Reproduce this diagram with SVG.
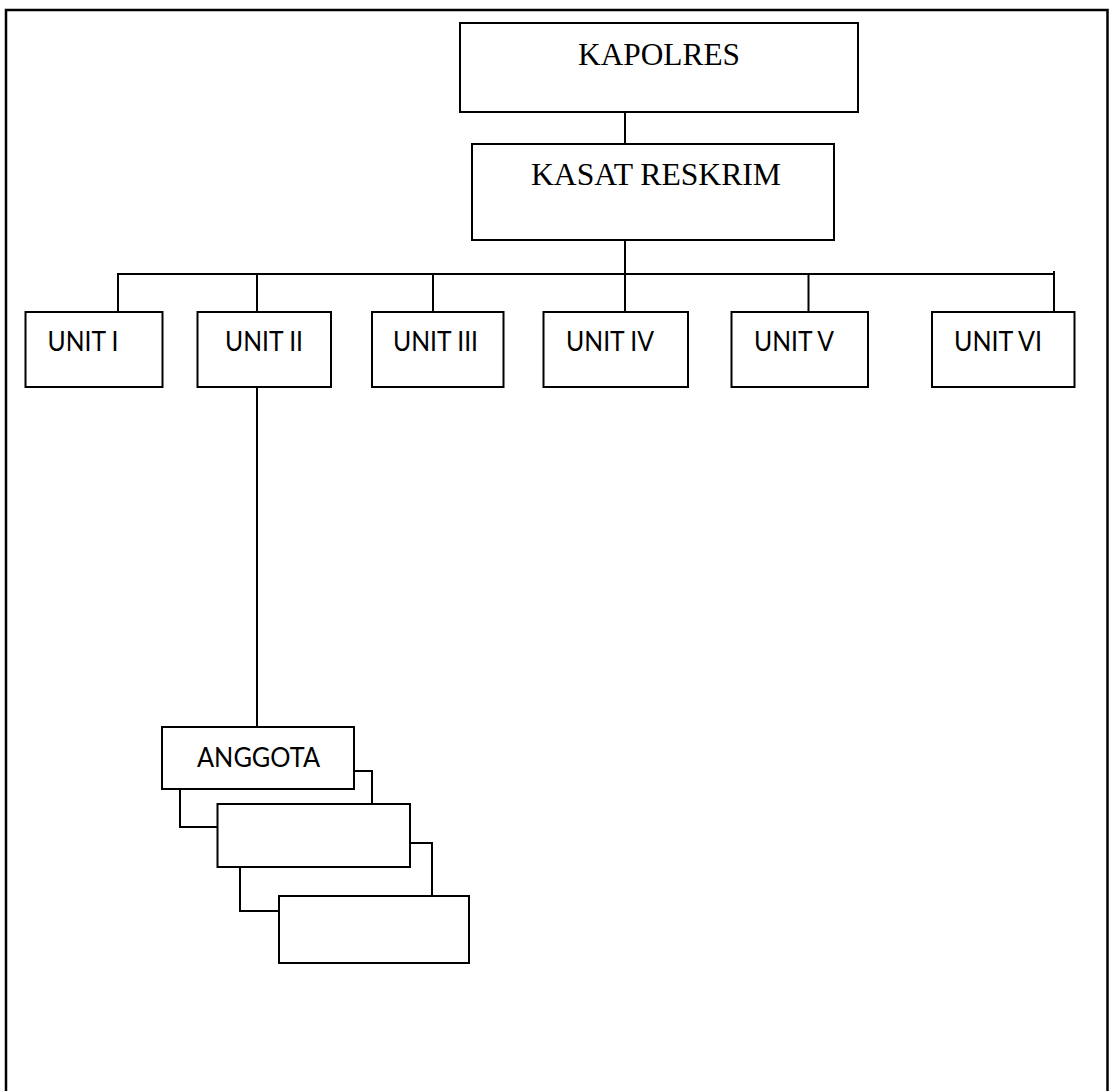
<svg xmlns="http://www.w3.org/2000/svg" width="1109" height="1091" viewBox="0 0 1109 1091">
<style>
.box{fill:#fff;stroke:#000;stroke-width:2}
.ln{fill:none;stroke:#000;stroke-width:2}
.serif{font-family:"Liberation Serif","Times New Roman",serif;font-size:32px;fill:#000}
.sans{font-family:Lato,"Open Sans",sans-serif;font-size:26px;fill:#000}
</style>
<rect width="1109" height="1091" fill="#fff"/>
<path d="M6,1091 V10 H1107.5 V1091" fill="none" stroke="#000" stroke-width="2.5"/>
<g id="connectors">
<line class="ln" x1="625" y1="112" x2="625" y2="144"/>
<line class="ln" x1="625" y1="240" x2="625" y2="312"/>
<line class="ln" x1="118" y1="274" x2="1054" y2="274"/>
<line class="ln" x1="118" y1="273" x2="118" y2="312"/>
<line class="ln" x1="257" y1="274" x2="257" y2="312"/>
<line class="ln" x1="433" y1="274" x2="433" y2="312"/>
<line class="ln" x1="808.5" y1="274" x2="808.5" y2="312"/>
<line class="ln" x1="1054" y1="271" x2="1054" y2="312"/>
<line class="ln" x1="257" y1="387" x2="257" y2="727"/>
<polyline class="ln" points="354,771 372,771 372,804"/>
<polyline class="ln" points="180,789 180,827 217.5,827"/>
<polyline class="ln" points="410,843 432,843 432,896"/>
<polyline class="ln" points="240,867 240,911 279,911"/>
</g>
<g id="kapolres"><rect class="box" x="460" y="23" width="398" height="89"/><text class="serif" x="578" y="65" textLength="162" lengthAdjust="spacingAndGlyphs">KAPOLRES</text></g>
<g id="kasat-reskrim"><rect class="box" x="472" y="144" width="362" height="96"/><text class="serif" x="531" y="185" textLength="250" lengthAdjust="spacingAndGlyphs">KASAT RESKRIM</text></g>
<g id="unit-1"><rect class="box" x="25.5" y="312" width="137" height="75"/><text class="sans" x="47.5" y="351" textLength="71" lengthAdjust="spacingAndGlyphs">UNIT I</text></g>
<g id="unit-2"><rect class="box" x="197.5" y="312" width="133.5" height="75"/><text class="sans" x="225" y="351" textLength="78" lengthAdjust="spacingAndGlyphs">UNIT II</text></g>
<g id="unit-3"><rect class="box" x="372" y="312" width="131.5" height="75"/><text class="sans" x="393" y="351" textLength="85" lengthAdjust="spacingAndGlyphs">UNIT III</text></g>
<g id="unit-4"><rect class="box" x="543.5" y="312" width="144.5" height="75"/><text class="sans" x="566" y="351" textLength="88" lengthAdjust="spacingAndGlyphs">UNIT IV</text></g>
<g id="unit-5"><rect class="box" x="731.5" y="312" width="136.5" height="75"/><text class="sans" x="754" y="351" textLength="80" lengthAdjust="spacingAndGlyphs">UNIT V</text></g>
<g id="unit-6"><rect class="box" x="932" y="312" width="142.5" height="75"/><text class="sans" x="954" y="351" textLength="88" lengthAdjust="spacingAndGlyphs">UNIT VI</text></g>
<g id="anggota"><rect class="box" x="162" y="727" width="192" height="62"/><text class="sans" x="197" y="767" textLength="123" lengthAdjust="spacingAndGlyphs">ANGGOTA</text></g>
<g id="anggota-2"><rect class="box" x="217.5" y="804" width="192.5" height="63"/></g>
<g id="anggota-3"><rect class="box" x="279" y="896" width="190" height="67"/></g>
</svg>
